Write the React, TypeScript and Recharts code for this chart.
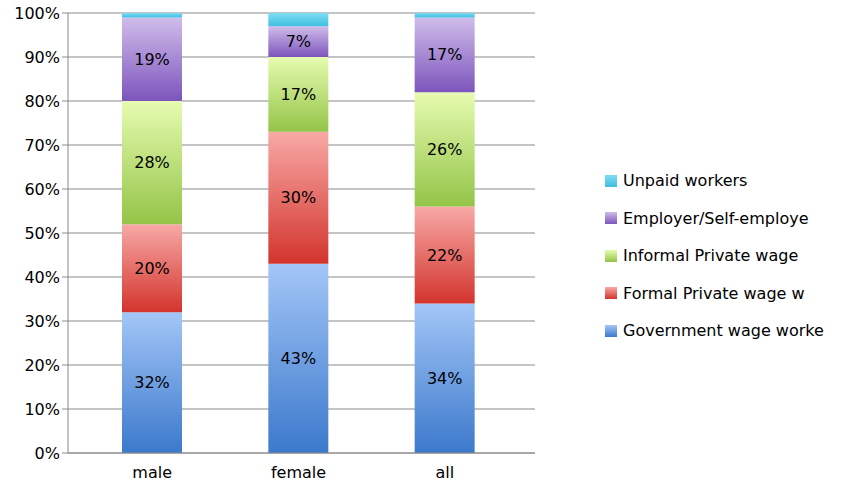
import React from "react";
import { BarChart, Bar, XAxis, YAxis, CartesianGrid, LabelList } from "recharts";

const groups = ["male", "female", "all"];
const government = [32, 43, 34];
const formalPrivate = [20, 30, 22];
const informalPrivate = [28, 17, 26];
const employer = [19, 7, 17];
const unpaid = [1, 3, 1];
const yTicks = [0, 10, 20, 30, 40, 50, 60, 70, 80, 90, 100];

const data = groups.map((g, i) => ({
  name: g,
  gov: government[i],
  formal: formalPrivate[i],
  informal: informalPrivate[i],
  employer: employer[i],
  unpaid: unpaid[i],
}));

const series = [
  { key: "gov", name: "Government wage worke", top: "#a3c6f7", bottom: "#3c79cc", label: true },
  { key: "formal", name: "Formal Private wage w", top: "#f8a9a6", bottom: "#d3342d", label: true },
  { key: "informal", name: "Informal Private wage", top: "#e6fbb0", bottom: "#93c447", label: true },
  { key: "employer", name: "Employer/Self-employe", top: "#cfbdea", bottom: "#7d55bd", label: true },
  { key: "unpaid", name: "Unpaid workers", top: "#7fdcf2", bottom: "#3fbfe0", label: false },
];

const font = "'DejaVu Sans', sans-serif";

export default function App() {
  return (
    <div style={{ position: "absolute", left: 0, top: 0, width: 855, height: 490, background: "#fff", fontFamily: font }}>
      <BarChart width={560} height={490} data={data} barSize={60} margin={{ top: 13, right: 25, bottom: 7, left: 12 }}>
        <defs>
          {series.map((s) => (
            <linearGradient key={s.key} id={`g-${s.key}`} x1="0" y1="0" x2="0" y2="1">
              <stop offset="0%" stopColor={s.top} />
              <stop offset="100%" stopColor={s.bottom} />
            </linearGradient>
          ))}
        </defs>
        <CartesianGrid vertical={false} stroke="#8a8a8a" strokeWidth={1} />
        <XAxis dataKey="name" stroke="#8a8a8a" tickLine={false} padding={{ left: 11, right: 17 }}
          tick={{ fill: "#000", fontSize: 16, fontFamily: font }} tickMargin={8} />
        <YAxis domain={[0, 100]} ticks={yTicks} tickFormatter={(v) => `${v}%`} stroke="#8a8a8a" width={56}
          tick={{ fill: "#000", fontSize: 16, fontFamily: font }} interval={0} />
        {series.map((s) => (
          <Bar key={s.key} dataKey={s.key} stackId="a" fill={`url(#g-${s.key})`} isAnimationActive={false}>
            {s.label && (
              <LabelList dataKey={s.key} position="center" formatter={(v: number) => `${v}%`}
                style={{ fill: "#000", fontSize: 16, fontFamily: font }} />
            )}
          </Bar>
        ))}
      </BarChart>
      <div style={{ position: "absolute", left: 605, top: 162 }}>
        {[...series].reverse().map((s) => (
          <div key={s.key} style={{ display: "flex", alignItems: "center", height: 37.5, fontSize: 16, color: "#000" }}>
            <span style={{ width: 12, height: 12, marginRight: 6, background: `linear-gradient(${s.top}, ${s.bottom})` }} />
            {s.name}
          </div>
        ))}
      </div>
    </div>
  );
}
